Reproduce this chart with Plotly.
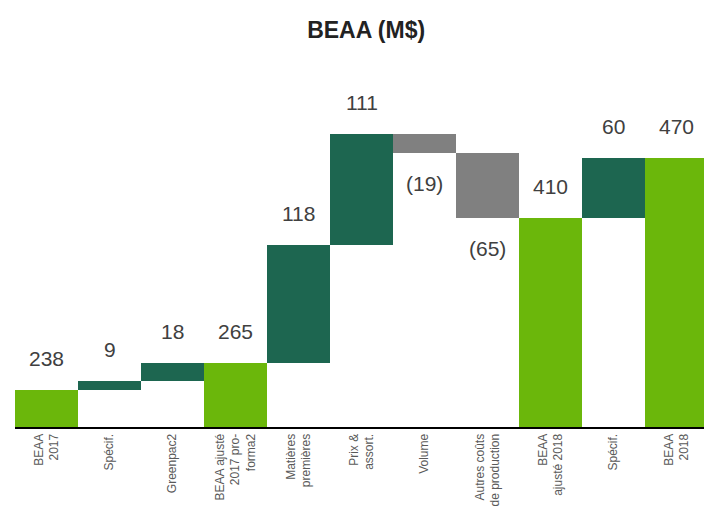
import plotly.graph_objects as go

categories = ["BEAA<br>2017", "Spécif.", "Greenpac2", "BEAA ajusté<br>2017 pro-<br>forma2",
              "Matières<br>premières", "Prix &<br>assort.", "Volume", "Autres coûts<br>de production",
              "BEAA<br>ajusté 2018", "Spécif.", "BEAA<br>2018"]
values = [238, 9, 18, 265, 118, 111, -19, -65, 410, 60, 470]
measures = ["absolute", "relative", "relative", "total", "relative", "relative", "relative",
            "relative", "total", "relative", "total"]
labels = ["238", "9", "18", "265", "118", "111", "(19)", "(65)", "410", "60", "470"]

LIGHT = "#6BB70B"
DARK = "#1D6650"
GRAY = "#808080"

positions = list(range(len(categories)))

fig = go.Figure(go.Waterfall(
    x=positions, y=values, measure=measures,
    increasing=dict(marker=dict(color=DARK)),
    decreasing=dict(marker=dict(color=GRAY)),
    totals=dict(marker=dict(color=LIGHT)),
    connector=dict(visible=False),
    textinfo="none",
))

# compute label anchor positions from the cumulative values
running = 0
annotations = []
lab_font = dict(size=21, color="#404040", family="Liberation Sans")
for pos, v, m, lab in zip(positions, values, measures, labels):
    if m == "absolute":
        start, end = 0, v
        running = v
    elif m == "total":
        start, end = 0, running
    else:
        start, end = running, running + v
        running += v
    if end >= start:
        annotations.append(dict(x=pos, y=max(start, end), text=lab, showarrow=False,
                                yanchor="bottom", yshift=18, font=lab_font))
    else:
        annotations.append(dict(x=pos, y=min(start, end), text=lab, showarrow=False,
                                yanchor="top", yshift=-17, font=lab_font))

fig.update_layout(
    width=712, height=515,
    margin=dict(l=7, r=12, t=72, b=96, autoexpand=False),
    paper_bgcolor="white", plot_bgcolor="white",
    waterfallgap=0,
    showlegend=False,
    title=dict(text="<b>BEAA (M$)</b>", x=0.503, xanchor="center", y=0.958, yanchor="middle",
               font=dict(size=23, color="#222222", family="Liberation Sans")),
    annotations=annotations,
    font=dict(family="Liberation Sans"),
)
fig.update_xaxes(tickmode="array", tickvals=positions, ticktext=categories,
                 range=[-0.5, len(categories) - 0.5], automargin=False,
                 tickangle=-90, tickfont=dict(size=12, color="#595959", family="Liberation Sans"),
                 showline=True, linecolor="black", linewidth=2, ticks="", showgrid=False)
fig.update_yaxes(range=[201, 548], visible=False, showgrid=False, zeroline=False)

fig.write_html("out.html")
